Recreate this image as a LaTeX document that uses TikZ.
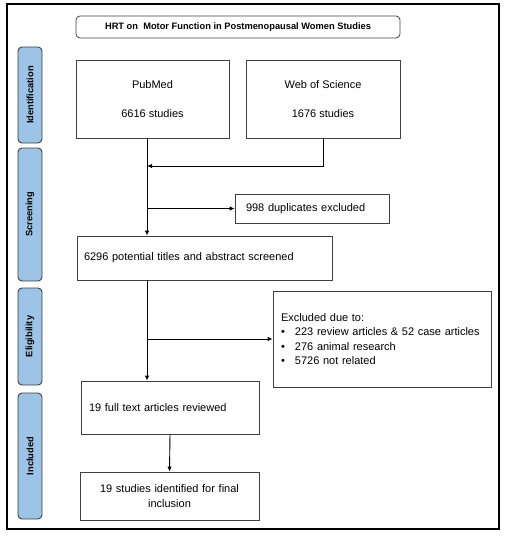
\documentclass[tikz,border=0pt]{standalone}
\usepackage{fontspec}
\setmainfont{Liberation Sans}
\usetikzlibrary{arrows.meta}

\definecolor{stageblue}{RGB}{157,195,230}
\definecolor{boxline}{RGB}{64,64,64}

\begin{document}
\begin{tikzpicture}[x=1pt, y=-1pt,
    box/.style={rectangle, draw=boxline, line width=0.8pt, font=\fontsize{11}{13.5}\selectfont},
    stage/.style={rectangle, rounded corners=4pt, draw=boxline, line width=0.9pt, fill=stageblue, rotate=90, minimum height=24pt, font=\fontsize{9.3}{11}\selectfont\bfseries},
    arrow/.style={-{Latex[length=5pt,width=4.5pt]}, line width=0.9pt}
]
    \useasboundingbox (0,0) rectangle (508,539);
    \draw[line width=1.3pt] (7,4) rectangle (499,529);

    % Title
    \node[box, rounded corners=4pt, minimum width=324pt, minimum height=22pt, font=\fontsize{9.3}{11}\selectfont\bfseries] (title) at (238,27) {HRT on\ \ Motor Function in Postmenopausal Women Studies};

    % Stages
    \node[stage, minimum width=96pt] (ident) at (30,95) {Identification};
    \node[stage, minimum width=133pt] (screening) at (30,214.5) {Screening};
    \node[stage, minimum width=97pt] (elig) at (30,336.5) {Eligibility};
    \node[stage, minimum width=126pt] (incl) at (30,456) {Included};

    % Databases
    \node[box, minimum width=153pt, minimum height=78pt, align=center] (pubmed) at (152.5,99) {PubMed\\[15pt]6616 studies};
    \node[box, minimum width=154pt, minimum height=78pt, align=center] (wos) at (323,99) {Web of Science\\[15pt]1676 studies};
    \coordinate (merge) at (147,166);

    % Screening
    \node[box, text width=132pt, inner xsep=11pt, minimum height=29pt, align=left] (dup) at (312,208.5) {998 duplicates excluded};
    \node[box, text width=241pt, inner xsep=7pt, minimum height=44pt, align=left] (screen) at (204.5,258) {6296 potential titles and abstract screened};

    % Eligibility
    \node[box, text width=202pt, inner xsep=8pt, minimum height=96pt, align=left, font=\fontsize{11}{14.5}\selectfont] (excl) at (382,339) {Excluded due to:\\
        \makebox[14pt][l]{\textbullet}223 review articles \& 52 case articles\\
        \makebox[14pt][l]{\textbullet}276 animal research\\
        \makebox[14pt][l]{\textbullet}5726 not related};

    % Included
    \node[box, text width=162pt, inner xsep=8pt, minimum height=53pt, align=left] (full) at (170,407.5) {19 full text articles reviewed};
    \node[box, text width=163pt, inner xsep=8pt, minimum height=48pt, align=center, font=\fontsize{11}{15}\selectfont] (final) at (169.5,496) {19 studies identified for final\\inclusion};

    % Connectors
    \draw[arrow] ([xshift=-5.5pt]pubmed.south) -- (screen.north -| merge);
    \draw[arrow] (wos.south) |- (merge);
    \draw[arrow] (dup.west -| merge) -- (dup.west);
    \draw[arrow] (screen.south -| merge) -- (full.north -| merge);
    \draw[arrow] (excl.west -| merge) -- (excl.west);
    \draw[arrow] (full.south) -- (final.north);
\end{tikzpicture}
\end{document}
